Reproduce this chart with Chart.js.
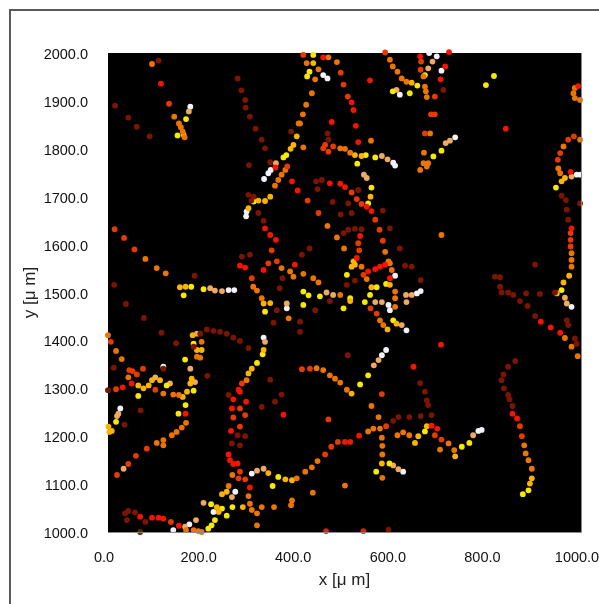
<!DOCTYPE html>
<html><head><meta charset="utf-8">
<script src="https://cdn.jsdelivr.net/npm/chart.js@4"></script>
<style>
html,body{margin:0;padding:0;background:#fff;overflow:hidden}
#frame{position:absolute;left:9px;top:9px;width:700px;height:700px;border-left:2px solid #5a5a5a;border-top:2px solid #5a5a5a}
#wrap{position:absolute;left:0;top:0;width:599px;height:604px}
canvas{filter:blur(0.7px)}
</style></head><body>
<div id="frame"></div>
<div id="wrap"><canvas id="c" width="599" height="604"></canvas></div>
<script>
const xTicks=[0,200,400,600,800,1000];
const yTicks=[1000,1100,1200,1300,1400,1500,1600,1700,1800,1900,2000];
const deepRedPts=[[107,1984],[15,1890],[43,1865],[61,1846],[88,1826],[274,1947],[282,1922],[290,1902],[291,1886],[300,1867],[312,1842],[325,1819],[332,1801],[298,1766],[343,1772],[183,1535],[13,1516],[297,1704],[308,1700],[303,1692],[318,1666],[329,1650],[387,1836],[369,1530],[363,1509],[283,1575],[300,1579],[464,1832],[466,1819],[709,1923],[959,1702],[968,1693],[970,1673],[973,1652],[998,1686],[903,1558],[818,1533],[829,1532],[829,1512],[832,1500],[846,1500],[857,1495],[884,1498],[913,1497],[945,1500],[440,1732],[452,1735],[529,1714],[443,1716],[581,1671],[596,1634],[617,1592],[475,1689],[508,1686],[492,1663],[515,1666],[498,1624],[508,1631],[522,1633],[536,1632],[426,1592],[410,1579],[628,1556],[642,1554],[661,1526],[505,1516],[522,1525],[38,1476],[76,1447],[113,1416],[144,1394],[357,1463],[350,1437],[12,1343],[0,1296],[35,1224],[69,1254],[195,1414],[181,1387],[209,1423],[223,1420],[237,1418],[251,1414],[265,1406],[279,1399],[297,1384],[210,1326],[255,1286],[274,1202],[290,1200],[262,1185],[279,1181],[325,1261],[343,1318],[353,1272],[367,1287],[36,1039],[43,1044],[57,1041],[40,1025],[79,1021],[68,1000],[438,1463],[469,1482],[406,1439],[406,1418],[507,1369],[660,1311],[670,1293],[674,1275],[677,1265],[684,1244],[661,1242],[637,1240],[614,1240],[603,1232],[861,1357],[846,1345],[836,1329],[832,1317],[837,1300],[846,1286],[849,1277],[855,1263],[871,1482],[887,1472],[903,1451],[970,1442],[973,1432],[987,1404],[991,1393],[593,1005],[117,1341]];
const redPts=[[112,1936],[354,1761],[389,1732],[401,1713],[332,1634],[343,1620],[355,1610],[279,1556],[290,1552],[329,1547],[395,1558],[455,1991],[554,1943],[515,1897],[519,1881],[473,1856],[524,1848],[529,1814],[660,1993],[721,2002],[713,1972],[703,1945],[841,1842],[994,1931],[978,1752],[980,1634],[469,1728],[491,1727],[501,1720],[547,1679],[557,1670],[533,1618],[526,1572],[575,1554],[586,1558],[565,1549],[550,1544],[596,1530],[50,1310],[31,1302],[276,1297],[279,1293],[265,1277],[262,1258],[292,1272],[260,1211],[255,1162],[258,1150],[265,1142],[274,1143],[300,1093],[371,1245],[68,1032],[93,1030],[107,1030],[117,1028],[150,1013],[704,1391],[646,1345],[531,1201],[512,1188],[501,1188],[684,1222],[696,1216],[855,1247],[865,1237],[915,1439],[936,1427],[956,1416],[461,1002],[540,1002],[164,1247]];
const redOrangePts=[[129,1894],[14,1632],[34,1614],[56,1590],[379,1763],[346,1588],[339,1561],[357,1565],[304,1530],[413,1996],[492,1959],[498,1934],[507,1909],[459,1808],[466,1794],[476,1805],[455,1801],[586,2001],[691,1909],[662,1982],[661,1965],[683,1872],[691,1872],[670,1832],[985,1826],[973,1819],[956,1791],[951,1777],[978,1624],[978,1610],[978,1596],[515,1709],[526,1695],[536,1685],[422,1692],[445,1666],[565,1652],[574,1631],[581,1608],[529,1603],[531,1588],[540,1537],[6,1397],[74,1341],[45,1338],[52,1336],[61,1329],[17,1298],[100,1297],[82,1174],[59,1159],[43,1142],[19,1119],[283,1310],[279,1258],[290,1244],[265,1239],[279,1220],[279,1126],[276,1112],[290,1110],[133,1021],[555,1467],[568,1456],[427,1341],[410,1340],[466,1235],[486,1188],[472,1178],[459,1162],[579,1288],[691,1202],[705,1193],[871,1221],[875,1200],[588,1221]];
const orangePts=[[93,1977],[140,1867],[79,1570],[103,1551],[122,1540],[150,1853],[154,1845],[158,1836],[162,1824],[403,1853],[353,1723],[360,1735],[367,1746],[375,1756],[367,1551],[385,1544],[392,1533],[307,1512],[315,1504],[325,1488],[420,1979],[466,1991],[445,1966],[438,1945],[484,1981],[431,1916],[419,1892],[412,1872],[406,1853],[556,1817],[413,1803],[491,1801],[501,1800],[512,1792],[596,1986],[602,1972],[612,1961],[621,1947],[631,1940],[670,1930],[672,1920],[674,1908],[667,1951],[681,1832],[668,1792],[660,1756],[667,1770],[677,1770],[674,1763],[987,1927],[984,1916],[987,1906],[998,1902],[998,1819],[963,1805],[952,1759],[956,1749],[980,1582],[980,1568],[980,1554],[586,1585],[593,1565],[464,1639],[484,1615],[499,1592],[536,1554],[413,1539],[434,1530],[445,1521],[547,1528],[596,1561],[600,1547],[607,1502],[607,1488],[491,1495],[607,1470],[382,1446],[0,1411],[17,1378],[29,1361],[43,1323],[117,1289],[138,1287],[150,1286],[165,1228],[156,1218],[145,1209],[135,1202],[117,1192],[117,1181],[103,1186],[198,1397],[188,1366],[195,1364],[293,1317],[263,1119],[297,1075],[399,1112],[255,1096],[300,1059],[304,1046],[315,1039],[325,1052],[351,1052],[389,1066],[387,1056],[315,1014],[165,1004],[181,1004],[191,1002],[198,1000],[575,1442],[582,1432],[505,1297],[491,1312],[480,1320],[469,1327],[455,1338],[441,1342],[557,1263],[572,1240],[575,1216],[561,1216],[550,1210],[443,1148],[431,1135],[417,1126],[579,1197],[580,1180],[580,1162],[580,1113],[501,1097],[433,1082],[612,1202],[624,1208],[637,1202],[720,1185],[702,1172],[732,1171],[880,1181],[883,1164],[889,1150],[896,1132],[966,1405],[980,1387],[993,1367],[705,1620]];
const goldPts=[[152,1511],[164,1512],[160,1829],[297,1676],[318,1692],[332,1691],[343,1700],[386,1800],[392,1808],[399,1826],[434,1979],[522,1787],[536,1785],[642,1938],[975,1535],[963,1521],[949,1498],[966,1739],[959,1732],[555,1700],[519,1565],[522,1558],[515,1554],[596,1516],[557,1511],[329,1477],[343,1478],[512,1482],[75,1300],[64,1306],[86,1306],[93,1317],[110,1317],[158,1282],[167,1293],[174,1310],[177,1320],[1,1220],[8,1211],[3,1209],[179,1411],[188,1380],[198,1380],[329,1380],[304,1341],[297,1331],[339,1123],[375,1110],[389,1108],[241,1079],[251,1084],[230,1052],[234,1042],[285,1052],[591,1423],[610,1435],[515,1289],[579,1143],[649,1186],[656,1200],[674,1221],[734,1158],[896,1112],[892,1101]];
const yellowPts=[[176,1512],[160,1494],[202,1507],[165,1862],[147,1828],[371,1782],[377,1787],[308,1690],[434,1996],[426,1961],[421,1951],[545,1787],[527,1769],[565,1782],[654,1932],[602,1920],[638,1916],[670,1954],[688,1784],[705,1796],[799,1933],[816,1952],[947,1719],[959,1505],[557,1719],[550,1686],[505,1537],[588,1518],[568,1511],[554,1495],[512,1488],[413,1502],[424,1494],[448,1492],[332,1460],[124,1306],[64,1284],[181,1295],[163,1360],[164,1265],[149,1247],[17,1230],[181,1393],[327,1371],[315,1353],[360,1115],[348,1096],[218,1058],[241,1049],[251,1034],[263,1052],[212,1007],[219,1014],[226,1025],[498,1467],[413,1474],[543,1480],[603,1442],[550,1327],[533,1308],[567,1126],[595,1143],[670,1210],[748,1178],[764,1186],[889,1087],[877,1079]];
const tanPts=[[216,1509],[226,1504],[241,1503],[171,1878],[355,1770],[579,1785],[591,1778],[610,1923],[677,1968],[686,1982],[714,1812],[723,1817],[980,1742],[966,1489],[547,1739],[541,1746],[642,1495],[630,1495],[462,1500],[476,1495],[378,1477],[100,1323],[131,1310],[184,1313],[174,1341],[22,1247],[19,1242],[188,1414],[332,1397],[315,1128],[329,1132],[262,1073],[202,1061],[163,1011],[186,1025],[565,1480],[579,1480],[621,1432],[631,1480],[572,1359],[562,1348],[603,1139],[614,1131],[772,1202],[970,1477],[33,1132]];
const whitePts=[[255,1505],[267,1505],[174,1888],[330,1737],[339,1749],[344,1756],[292,1659],[293,1669],[455,1954],[464,1947],[603,1771],[607,1765],[617,1913],[695,1993],[679,2000],[705,1963],[734,1824],[991,1746],[999,1746],[607,1535],[653,1498],[661,1503],[378,1467],[117,1345],[26,1258],[329,1406],[304,1122],[269,1084],[223,1042],[172,1016],[138,1004],[593,1474],[596,1463],[631,1421],[588,1380],[579,1369],[624,1126],[783,1211],[790,1213],[980,1470]];
const groups=[[deepRedPts,'#7c1500'],[redPts,'#f41400'],[redOrangePts,'#e63a00'],[orangePts,'#ec7400'],[goldPts,'#fbb400'],[yellowPts,'#f6ea00'],[tanPts,'#eeaa62'],[whitePts,'#f2f2fa']];
const fontBase={family:'"Liberation Sans",Arial,sans-serif',size:14.5};
const fontTitle={family:'"Liberation Sans",Arial,sans-serif',size:17};
const plotBack={id:'plotBack',
 beforeDatasetsDraw(ch){const a=ch.chartArea,g=ch.ctx;g.save();g.fillStyle='#000';g.fillRect(a.left,a.top,a.width,a.height);g.restore();},
 afterDatasetsDraw(ch){const a=ch.chartArea,g=ch.ctx;g.save();g.strokeStyle='#8a8a8a';g.lineWidth=1;g.beginPath();g.moveTo(a.left,a.bottom+.5);g.lineTo(a.right+.5,a.bottom+.5);g.lineTo(a.right+.5,a.top);g.stroke();g.restore();}};
new Chart(document.getElementById('c'),{type:'scatter',plugins:[plotBack],
 data:{datasets:groups.map(([p,c])=>({data:p.map(([x,y])=>({x,y})),backgroundColor:c,borderWidth:0,pointRadius:2.9,pointHoverRadius:2.9,clip:false}))},
 options:{responsive:false,animation:false,events:[],
  layout:{padding:{left:0,top:53,right:18,bottom:0}},
  plugins:{legend:{display:false},tooltip:{enabled:false}},
  scales:{
   x:{type:'linear',min:0,max:1000,afterBuildTicks(s){s.ticks=xTicks.map(v=>({value:v}));},
    afterFit(s){s.height=72;s.paddingLeft=0;s.paddingRight=0;},
    grid:{display:false},border:{display:false},
    ticks:{color:'#111',font:fontBase,padding:9,maxRotation:0,autoSkip:false,labelOffset:-4,callback:v=>v.toFixed(1)},
    title:{display:true,text:'x [μ m]',color:'#222',font:fontTitle,padding:{top:0,bottom:13}}},
   y:{type:'linear',min:1000,max:2000,afterBuildTicks(s){s.ticks=yTicks.map(v=>({value:v}));},
    afterFit(s){s.width=108;s.paddingTop=0;s.paddingBottom=0;},
    grid:{display:false},border:{display:false},
    ticks:{color:'#111',font:fontBase,padding:12,autoSkip:false,labelOffset:2,callback:v=>v.toFixed(1)},
    title:{display:true,text:'y [μ m]',color:'#222',font:fontTitle,padding:{top:20,bottom:4}}}
  }}});
</script>
</body></html>
